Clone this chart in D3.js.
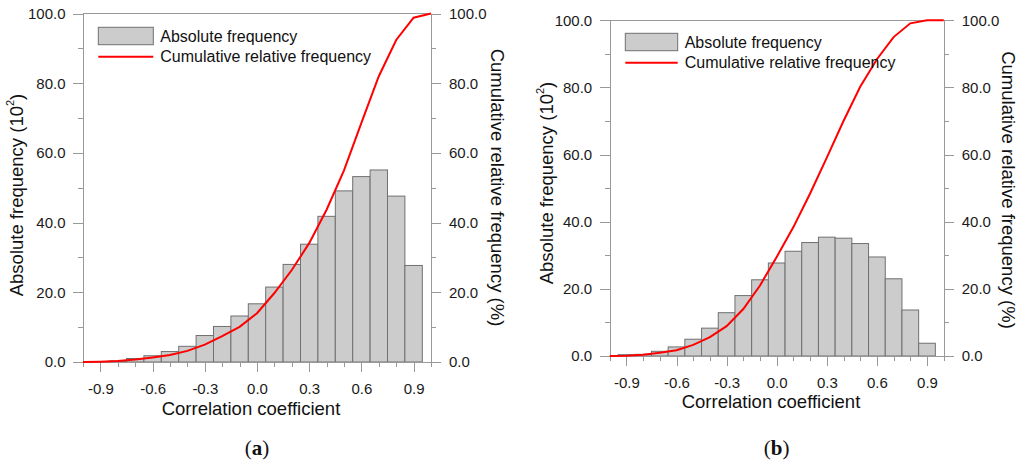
<!DOCTYPE html>
<html lang="en">
<head>
<meta charset="utf-8">
<title>Correlation coefficient histograms</title>
<script src="https://cdn.jsdelivr.net/npm/d3@7"></script>
<style>
body{margin:0;background:#fff;}
svg{display:block;font-family:"Liberation Sans",Arial,sans-serif;}
.axis path,.axis line{stroke:#999;stroke-width:1px;shape-rendering:crispEdges;}
.axis text{font-family:"Liberation Sans",Arial,sans-serif;font-size:15px;fill:#1a1a1a;}
.title{font-size:18.5px;fill:#111;}
.legend text{font-size:16px;fill:#111;}
.cap{font-family:"Liberation Serif","DejaVu Serif",serif;font-size:21px;fill:#111;}
</style>
</head>
<body>
<svg width="1024" height="464"></svg>
<script>
// histogram bins (centres) and heights, in 10^2
var binCenters=[-0.9,-0.8,-0.7,-0.6,-0.5,-0.4,-0.3,-0.2,-0.1,0.0,0.1,0.2,0.3,0.4,0.5,0.6,0.7,0.8,0.9];
var freqA=[0.1,0.3,1.0,1.8,3.0,4.5,7.6,10.2,13.2,16.7,21.5,28.0,33.8,41.8,49.1,53.2,55.1,47.6,27.7];
var freqB=[0.4,0.5,1.4,2.7,5.0,8.3,12.9,18.0,22.7,27.7,31.2,33.8,35.4,35.1,33.5,29.5,23.0,13.7,3.8];
// cumulative relative frequency (%)
var cumX=[-1.0,-0.9,-0.8,-0.7,-0.6,-0.5,-0.4,-0.3,-0.2,-0.1,0.0,0.1,0.2,0.3,0.4,0.5,0.6,0.7,0.8,0.9,1.0];
var cumA=[0,0.1,0.3,0.7,1.3,2.0,3.2,5.0,7.4,10.1,14.0,19.8,26.4,34.1,43.7,55.0,68.6,82.0,92.4,98.8,100];
var cumB=[0,0.1,0.4,1.0,1.7,3.3,5.6,8.9,14.0,21.0,29.5,38.4,48.4,59.1,70.0,80.2,88.4,95.0,99.1,100,100];
var xTicks=[-0.9,-0.6,-0.3,0.0,0.3,0.6,0.9];
var xMinorTicks=[-1.0,-0.8,-0.7,-0.5,-0.4,-0.2,-0.1,0.1,0.2,0.4,0.5,0.7,0.8,1.0];
var yTicks=[0,20,40,60,80,100];
var yMinorTicks=[10,30,50,70,90];
var binWidth=0.1;
var legendLabels=["Absolute frequency","Cumulative relative frequency"];
var xTitle="Correlation coefficient";
var y2Title="Cumulative relative frequency (%)";

var svg=d3.select("svg");
var fmt=function(d){return d.toFixed(1);};

function drawPanel(p){
  var xscale=d3.scaleLinear().domain([-1,1]).range([p.left,p.right]);
  var yscale=d3.scaleLinear().domain([0,100]).range([p.bottom,p.top]);
  var g=svg.append("g");

  g.selectAll("rect.bar")
   .data(p.freq)
   .enter()
   .append("rect")
   .attr("class","bar")
   .attr("x",function(d,i){return xscale(binCenters[i]-binWidth/2);})
   .attr("width",function(d,i){return xscale(binCenters[i]+binWidth/2)-xscale(binCenters[i]-binWidth/2);})
   .attr("y",function(d){return yscale(d);})
   .attr("height",function(d){return yscale(0)-yscale(d);})
   .attr("fill","#cccccc")
   .attr("stroke","#707070")
   .attr("stroke-width",1);

  // top frame line
  g.append("line")
   .attr("x1",p.left).attr("x2",p.right)
   .attr("y1",p.top).attr("y2",p.top)
   .attr("stroke","#999").attr("shape-rendering","crispEdges");

  // minor ticks first
  g.append("g").attr("class","axis")
   .attr("transform","translate(0,"+p.bottom+")")
   .call(d3.axisBottom(xscale).tickValues(xMinorTicks).tickSize(5).tickFormat(""));
  g.append("g").attr("class","axis")
   .attr("transform","translate(0,"+p.bottom+")")
   .call(d3.axisBottom(xscale).tickValues(xTicks).tickSize(10).tickSizeOuter(0).tickPadding(11.5).tickFormat(fmt));

  g.append("g").attr("class","axis")
   .attr("transform","translate("+p.left+",0)")
   .call(d3.axisLeft(yscale).tickValues(yMinorTicks).tickSize(5).tickSizeOuter(0).tickFormat(""));
  g.append("g").attr("class","axis")
   .attr("transform","translate("+p.left+",0)")
   .call(d3.axisLeft(yscale).tickValues(yTicks).tickSize(10).tickSizeOuter(0).tickPadding(7.5).tickFormat(fmt));

  g.append("g").attr("class","axis")
   .attr("transform","translate("+p.right+",0)")
   .call(d3.axisRight(yscale).tickValues(yMinorTicks).tickSize(5).tickSizeOuter(0).tickFormat(""));
  g.append("g").attr("class","axis")
   .attr("transform","translate("+p.right+",0)")
   .call(d3.axisRight(yscale).tickValues(yTicks).tickSize(10).tickSizeOuter(0).tickPadding(8).tickFormat(fmt));

  var line=d3.line()
    .x(function(d,i){return xscale(cumX[i]);})
    .y(function(d){return yscale(d);});
  g.append("path")
   .datum(p.cum)
   .attr("d",line)
   .attr("fill","none")
   .attr("stroke","#ff0000")
   .attr("stroke-width",2);

  // legend
  var lg=g.append("g").attr("class","legend");
  lg.append("rect")
    .attr("x",p.legX).attr("y",p.legY)
    .attr("width",p.legW).attr("height",17.4)
    .attr("fill","#cccccc").attr("stroke","#707070");
  lg.append("text")
    .attr("x",p.legX+p.legW+7).attr("y",p.legY+9)
    .attr("dominant-baseline","central")
    .text(legendLabels[0]);
  lg.append("line")
    .attr("x1",p.legX).attr("x2",p.legX+p.legW)
    .attr("y1",p.legY+29.5).attr("y2",p.legY+29.5)
    .attr("stroke","#ff0000").attr("stroke-width",2);
  lg.append("text")
    .attr("x",p.legX+p.legW+7).attr("y",p.legY+29.5)
    .attr("dominant-baseline","central")
    .text(legendLabels[1]);

  // axis titles
  g.append("text").attr("class","title")
   .attr("x",p.xTitleX).attr("y",p.xTitleY)
   .attr("text-anchor","middle").attr("dominant-baseline","central")
   .text(xTitle);

  var yt=g.append("text").attr("class","title")
   .attr("transform","translate("+p.yTitleX+","+p.yTitleY+") rotate(-90)")
   .attr("text-anchor","middle").attr("dominant-baseline","central");
  yt.append("tspan").text("Absolute frequency (10");
  yt.append("tspan").attr("dy",-6).attr("font-size","11px").text("2");
  yt.append("tspan").attr("dy",6).text(")");

  g.append("text").attr("class","title")
   .attr("transform","translate("+p.y2TitleX+","+p.y2TitleY+") rotate(90)")
   .attr("text-anchor","middle").attr("dominant-baseline","central")
   .text(y2Title);

  var cap=g.append("text").attr("class","cap")
   .attr("x",(p.left+p.right)/2).attr("y",448)
   .attr("text-anchor","middle").attr("dominant-baseline","central");
  cap.append("tspan").text("(");
  cap.append("tspan").attr("font-weight","bold").text(p.caption);
  cap.append("tspan").text(")");
}

drawPanel({freq:freqA,cum:cumA,caption:"a",
  left:83,right:431,top:13.5,bottom:362,
  legX:98.3,legY:27.3,legW:55,
  xTitleX:251,xTitleY:408.3,yTitleX:16,yTitleY:195,y2TitleX:497,y2TitleY:187.5});
drawPanel({freq:freqB,cum:cumB,caption:"b",
  left:609.7,right:943.7,top:20.3,bottom:356,
  legX:625.3,legY:33.3,legW:52.4,
  xTitleX:771,xTitleY:401,yTitleX:546,yTitleY:183,y2TitleX:1008,y2TitleY:190});
</script>
</body>
</html>
